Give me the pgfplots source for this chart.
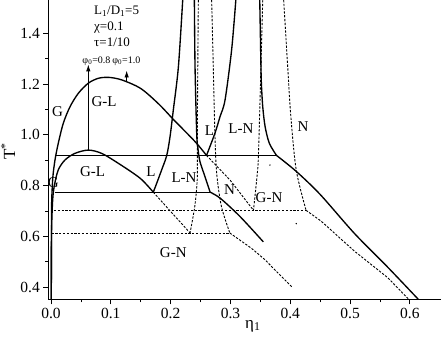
\documentclass[border=0pt]{standalone}
\usepackage{fontspec}
\setmainfont{Liberation Serif}
\usepackage{pgfplots}
\pgfplotsset{compat=1.18}
\usetikzlibrary{arrows.meta}

\tikzset{
  bin/.style={line width=1.35pt, black, smooth},
  tie/.style={line width=1pt, black},
  meta/.style={line width=0.9pt, black, dash pattern=on 2.3pt off 1.5pt},
  lab/.style={font=\fontsize{15}{17}\selectfont, inner sep=0pt},
  note/.style={anchor=west, font=\fontsize{13}{15}\selectfont, inner sep=0pt},
}

\begin{document}
\begin{tikzpicture}
\begin{axis}[
  scale only axis, width=392.7pt, height=299.3pt,
  at={(0,0)}, anchor=south west,
  xmin=-0.0045, xmax=0.652, ymin=0.3515, ymax=1.532,
  axis lines*=left,
  axis line style={line width=0.8pt},
  tick align=outside,
  tick style={line width=0.8pt, black},
  xtick={0,0.1,0.2,0.3,0.4,0.5,0.6},
  ytick={0.4,0.6,0.8,1.0,1.2,1.4},
  minor x tick num=1, minor y tick num=1,
  major tick length=5pt, minor tick length=3pt,
  /pgf/number format/assume math mode=true,
  xticklabel style={/pgf/number format/.cd, fixed, fixed zerofill, precision=1},
  yticklabel style={/pgf/number format/.cd, fixed, fixed zerofill, precision=1},
  tick label style={font=\fontsize{15.5}{17}\selectfont},
  xlabel={η\textsubscript{1}}, ylabel={T\textsuperscript{*}},
  label style={font=\fontsize{17}{19}\selectfont},
  xlabel style={at={(axis description cs:0.521,-0.089)}, anchor=center},
  ylabel style={at={(axis description cs:-0.1026,0.4955)}, anchor=center},
  clip=true,
]
% phi0 = 1.0 gas-liquid binodal
\addplot[bin] coordinates {(0.0005,0.3515)(0.0007,0.55)(0.001,0.72)(0.003,0.83)(0.0067,0.901)(0.0122,0.967)(0.0206,1.046)(0.0318,1.111)(0.0457,1.164)(0.0624,1.204)(0.079,1.223)(0.0958,1.227)(0.118,1.217)(0.15,1.183)(0.18,1.122)(0.205,1.06)(0.241,0.973)(0.26,0.919)};
% phi0 = 0.8 gas-liquid binodal
\addplot[bin] coordinates {(0.0005,0.3515)(0.0007,0.55)(0.0012,0.65)(0.003,0.75)(0.006,0.805)(0.0122,0.862)(0.0234,0.901)(0.040,0.927)(0.0624,0.940)(0.0847,0.927)(0.1125,0.888)(0.149,0.829)(0.171,0.774)};
% liquid boundaries
\addplot[bin] coordinates {(0.171,0.774)(0.1767,0.809)(0.185,0.862)(0.1935,0.919)(0.199,0.993)(0.2045,1.098)(0.213,1.269)(0.2202,1.532)};
\addplot[bin] coordinates {(0.26,0.919)(0.274,1.006)(0.2826,1.072)(0.291,1.138)(0.302,1.336)(0.309,1.532)};
% nematic boundaries
\addplot[bin] coordinates {(0.2397,1.532)(0.2408,1.269)(0.2436,1.006)(0.2455,0.95)(0.249,0.895)(0.2575,0.835)(0.266,0.774)};
\addplot[bin] coordinates {(0.266,0.774)(0.283,0.75)(0.316,0.678)(0.355,0.578)};
\addplot[bin] coordinates {(0.349,1.532)(0.351,1.27)(0.3517,1.2036)(0.354,1.111)(0.358,1.032)(0.365,0.967)(0.377,0.919)};
\addplot[bin] coordinates {(0.377,0.919)(0.41,0.856)(0.45,0.765)(0.507,0.612)(0.563,0.478)(0.614,0.3515)};
% triple-point tie lines
\addplot[tie] coordinates {(0.0067,0.919)(0.377,0.919)};
\addplot[tie] coordinates {(0.0067,0.774)(0.266,0.774)};
% metastable / dashed lines
\addplot[meta] coordinates {(0.005,0.7025)(0.4264,0.7025)};
\addplot[meta] coordinates {(0.001,0.613)(0.299,0.613)};
\addplot[meta] coordinates {(0.171,0.774)(0.2325,0.613)};
\addplot[meta] coordinates {(0.26,0.919)(0.2993,0.822)(0.3385,0.7025)};
\addplot[meta, smooth] coordinates {(0.2463,1.532)(0.2452,1.2)(0.2446,0.95)(0.2446,0.83)(0.2405,0.72)(0.2325,0.613)};
\addplot[meta, smooth] coordinates {(0.2686,1.532)(0.2713,1.269)(0.274,1.006)(0.277,0.848)(0.285,0.717)(0.299,0.613)};
\addplot[meta] coordinates {(0.299,0.613)(0.335,0.553)(0.357,0.509)(0.404,0.397)};
\addplot[meta, smooth] coordinates {(0.354,1.532)(0.351,1.27)(0.3495,1.138)(0.3467,0.914)(0.345,0.85)(0.3385,0.7025)};
\addplot[meta, smooth] coordinates {(0.389,1.532)(0.3957,1.269)(0.401,1.072)(0.41,0.861)(0.4264,0.7025)};
\addplot[meta] coordinates {(0.4264,0.7025)(0.4515,0.66)(0.507,0.542)(0.563,0.4367)(0.598,0.3515)};
\addplot[only marks, mark=*, mark size=0.4pt] coordinates {(0.366,0.881)(0.41,0.65)};

% arrows to the critical points
\draw[line width=0.9pt, -{Latex[length=7pt,width=4.5pt]}] (axis cs:0.0624,0.94) -- (axis cs:0.0624,1.278);
\draw[line width=0.9pt, -{Latex[length=7pt,width=4.5pt]}] (axis cs:0.1265,1.212) -- (axis cs:0.1265,1.254);

% annotations
\node[note] at (axis cs:0.0719,1.489) {L\textsubscript{1}/D\textsubscript{1}=5};
\node[note] at (axis cs:0.0719,1.425) {χ=0.1};
\node[note] at (axis cs:0.0719,1.366) {τ=1/10};
\node[font=\fontsize{10}{12}\selectfont, inner sep=0pt] at (axis cs:0.076,1.291) {φ\textsubscript{0}=0.8};
\node[font=\fontsize{10}{12}\selectfont, inner sep=0pt] at (axis cs:0.126,1.291) {φ\textsubscript{0}=1.0};

% phase labels
\node[lab] at (axis cs:0.011,1.09) {G};
\node[lab] at (axis cs:0.0888,1.131) {G-L};
\node[lab] at (axis cs:0.0694,0.855) {G-L};
\node[lab] at (axis cs:0.004,0.81) {G};
\node[lab] at (axis cs:0.265,1.015) {L};
\node[lab] at (axis cs:0.3174,1.023) {L-N};
\node[lab] at (axis cs:0.4214,1.031) {N};
\node[lab] at (axis cs:0.167,0.854) {L};
\node[lab] at (axis cs:0.2224,0.832) {L-N};
\node[lab] at (axis cs:0.2985,0.783) {N};
\node[lab] at (axis cs:0.3645,0.751) {G-N};
\node[lab] at (axis cs:0.2045,0.534) {G-N};
\end{axis}
\pgfresetboundingbox
\useasboundingbox (-48.3pt,-43.7pt) rectangle (393.7pt,299.3pt);
\end{tikzpicture}
\end{document}
